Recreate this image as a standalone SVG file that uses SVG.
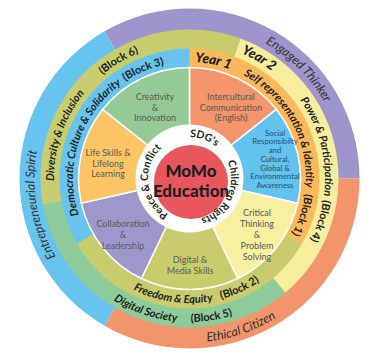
<svg xmlns="http://www.w3.org/2000/svg" xmlns:xlink="http://www.w3.org/1999/xlink" width="368" height="356" viewBox="0 0 368 356">
<style>
text{font-family:Lato,"Noto Sans",sans-serif}
.lbl{font-size:9px;fill:#5a5a5a;text-anchor:middle}
.soc{font-size:7.8px;fill:#2d4f6c}
.ring{font-style:italic;font-weight:700;font-size:11px;fill:#231f20}
.blk{font-weight:700;font-size:11px;fill:#231f20}
.outer{font-style:italic;font-size:12.5px;fill:#333}
.year{font-style:italic;font-weight:900;font-size:13.5px;fill:#231f20}
.white{font-weight:700;font-size:10.5px;fill:#231f20}
.core{font-weight:900;font-size:17px;fill:#231f20;text-anchor:middle}
.sec{stroke:#fff;stroke-width:1.5}
</style>
<defs>
<path id="cw155" d="M-152.65,-26.91 A155,155 0 0 1 152.65,-26.91"/>
<path id="cw135" d="M-133.44,-23.53 A135.5,135.5 0 0 1 133.44,-23.53"/>
<path id="cw116" d="M-114.73,-20.23 A116.5,116.5 0 0 1 114.73,-20.23"/>
<path id="cw41" d="M-40.87,-7.21 A41.5,41.5 0 0 1 40.87,-7.21"/>
<path id="ccw164" d="M-161.51,28.48 A164,164 0 0 0 161.51,28.48"/>
<path id="ccw143" d="M-141.32,24.92 A143.5,143.5 0 0 0 141.32,24.92"/>
<path id="ccw124" d="M-122.61,21.62 A124.5,124.5 0 0 0 122.61,21.62"/>
</defs>
<g id="wheel" transform="translate(189.5,178.5)">
<g id="outer-ring">
<path d="M0,0 L-85,-147.22 A170,170 0 0 1 170,0 Z" fill="#9d95cb"/>
<path d="M0,0 L170,0 A170,170 0 0 1 -85,147.22 Z" fill="#f2956c"/>
<path d="M0,0 L-85,147.22 A170,170 0 0 1 -85,-147.22 Z" fill="#67c4ee"/>
</g>
<g id="year2-ring">
<path d="M0,0 L50.96,-140.02 A149,149 0 0 1 95.78,114.14 Z" fill="#f6ee9c"/>
<path d="M0,0 L95.78,114.14 A149,149 0 0 1 -146.74,25.87 Z" fill="#8ecb9a"/>
<path d="M0,0 L-146.74,25.87 A149,149 0 0 1 50.96,-140.02 Z" fill="#c9cc6c"/>
</g>
<g id="year1-ring">
<path d="M0,0 L0,-130 A130,130 0 0 1 112.58,65 Z" fill="#fbb95c"/>
<path d="M0,0 L112.58,65 A130,130 0 0 1 -112.58,65 Z" fill="#c9cc6c"/>
<path d="M0,0 L-112.58,65 A130,130 0 0 1 0,-130 Z" fill="#67c4ee"/>
</g>
<g id="sectors">
<path class="sec" d="M0,0 L0,-111 A111,111 0 0 1 86.78,-69.21 Z" fill="#f4956b"/>
<path class="sec" d="M0,0 L86.78,-69.21 A111,111 0 0 1 108.21,24.70 Z" fill="#62c3ee"/>
<path class="sec" d="M0,0 L108.21,24.70 A111,111 0 0 1 48.16,100.01 Z" fill="#f7f0a0"/>
<path class="sec" d="M0,0 L48.16,100.01 A111,111 0 0 1 -48.16,100.01 Z" fill="#c9cc6c"/>
<path class="sec" d="M0,0 L-48.16,100.01 A111,111 0 0 1 -108.21,24.70 Z" fill="#9e97cc"/>
<path class="sec" d="M0,0 L-108.21,24.70 A111,111 0 0 1 -86.78,-69.21 Z" fill="#fdc565"/>
<path class="sec" d="M0,0 L-86.78,-69.21 A111,111 0 0 1 0,-111 Z" fill="#95ca97"/>
</g>
<circle id="white-ring" r="54" fill="#fff"/>
</g>
<g id="core">
<circle cx="191" cy="182" r="37" fill="#e8575d"/>
<text class="core" x="191" y="177">MoMo</text>
<text class="core" x="191" y="197">Education</text>
</g>
<g id="white-labels" transform="translate(189.5,178.5)">
<text class="white" transform="rotate(20)"><textPath xlink:href="#cw41" href="#cw41" startOffset="50%" text-anchor="middle">SDG's</textPath></text>
<text class="white" transform="rotate(115)"><textPath xlink:href="#cw41" href="#cw41" startOffset="50%" text-anchor="middle">Children Rights</textPath></text>
<text class="white" transform="rotate(264)"><textPath xlink:href="#cw41" href="#cw41" startOffset="50%" text-anchor="middle">Peace &amp; Conflict</textPath></text>
</g>
<g id="ring-labels" transform="translate(189.5,178.5)">
<text class="outer" transform="rotate(45)"><textPath xlink:href="#cw155" href="#cw155" startOffset="50%" text-anchor="middle">Engaged Thinker</textPath></text>
<text class="outer" transform="rotate(-19)"><textPath xlink:href="#ccw164" href="#ccw164" startOffset="50%" text-anchor="middle">Ethical Citizen</textPath></text>
<text class="outer" transform="rotate(260)"><textPath xlink:href="#cw155" href="#cw155" startOffset="50%" text-anchor="middle">Entrepreneurial Spirit</textPath></text>
<text class="ring" transform="rotate(289)"><textPath xlink:href="#cw135" href="#cw135" startOffset="50%" text-anchor="middle">Diversity &amp; Inclusion</textPath></text>
<text class="blk" transform="rotate(329)"><textPath xlink:href="#cw135" href="#cw135" startOffset="50%" text-anchor="middle">(Block 6)</textPath></text>
<text class="year" transform="rotate(30)"><textPath xlink:href="#cw135" href="#cw135" startOffset="50%" text-anchor="middle">Year 2</textPath></text>
<text class="ring" transform="rotate(76)"><textPath xlink:href="#cw135" href="#cw135" startOffset="50%" text-anchor="middle">Power &amp; Participation</textPath></text>
<text class="blk" transform="rotate(108)"><textPath xlink:href="#cw135" href="#cw135" startOffset="50%" text-anchor="middle">(Block 4)</textPath></text>
<text class="ring" transform="rotate(18.5)"><textPath xlink:href="#ccw143" href="#ccw143" startOffset="50%" text-anchor="middle">Digital Society</textPath></text>
<text class="blk" transform="rotate(-9)"><textPath xlink:href="#ccw143" href="#ccw143" startOffset="50%" text-anchor="middle">(Block 5)</textPath></text>
<text class="ring" transform="rotate(288)"><textPath xlink:href="#cw116" href="#cw116" startOffset="50%" text-anchor="middle">Democratic Culture &amp; Solidarity</textPath></text>
<text class="blk" transform="rotate(337)"><textPath xlink:href="#cw116" href="#cw116" startOffset="50%" text-anchor="middle">(Block 3)</textPath></text>
<text class="year" transform="rotate(11.5)"><textPath xlink:href="#cw116" href="#cw116" startOffset="50%" text-anchor="middle">Year 1</textPath></text>
<text class="ring" transform="rotate(61)"><textPath xlink:href="#cw116" href="#cw116" startOffset="50%" text-anchor="middle">Self representation &amp; Identity</textPath></text>
<text class="blk" transform="rotate(108)"><textPath xlink:href="#cw116" href="#cw116" startOffset="50%" text-anchor="middle">(Block 1)</textPath></text>
<text class="ring" transform="rotate(8)"><textPath xlink:href="#ccw124" href="#ccw124" startOffset="50%" text-anchor="middle">Freedom &amp; Equity</textPath></text>
<text class="blk" transform="rotate(-24.5)"><textPath xlink:href="#ccw124" href="#ccw124" startOffset="50%" text-anchor="middle">(Block 2)</textPath></text>
</g>
<g id="creativity"><text class="lbl" x="155" y="100">Creativity</text><text class="lbl" x="155" y="110.5">&amp;</text><text class="lbl" x="155" y="121">Innovation</text></g>
<g id="intercultural"><text class="lbl" x="231" y="100">Intercultural</text><text class="lbl" x="231" y="110.5">Communication</text><text class="lbl" x="231" y="121">(English)</text></g>
<g id="social"><text class="lbl soc" x="275" y="135.7">Social</text><text class="lbl soc" x="275" y="144.4">Responsibilty</text><text class="lbl soc" x="275" y="153.1">and</text><text class="lbl soc" x="275" y="161.8">Cultural,</text><text class="lbl soc" x="275" y="170.5">Global &amp;</text><text class="lbl soc" x="275" y="179.2">Environmental</text><text class="lbl soc" x="275" y="187.9">Awareness</text></g>
<g id="critical"><text class="lbl" x="257" y="216">Critical</text><text class="lbl" x="257" y="227">Thinking</text><text class="lbl" x="257" y="238">&amp;</text><text class="lbl" x="257" y="249">Problem</text><text class="lbl" x="257" y="260">Solving</text></g>
<g id="digital"><text class="lbl" x="190" y="263">Digital &amp;</text><text class="lbl" x="190" y="274">Media Skills</text></g>
<g id="collaboration"><text class="lbl" x="123" y="227">Collaboration</text><text class="lbl" x="123" y="238">&amp;</text><text class="lbl" x="123" y="249">Leadership</text></g>
<g id="lifeskills"><text class="lbl" x="108" y="156">Life Skills &amp;</text><text class="lbl" x="108" y="167">Lifelong</text><text class="lbl" x="108" y="177">Learning</text></g>
</svg>
